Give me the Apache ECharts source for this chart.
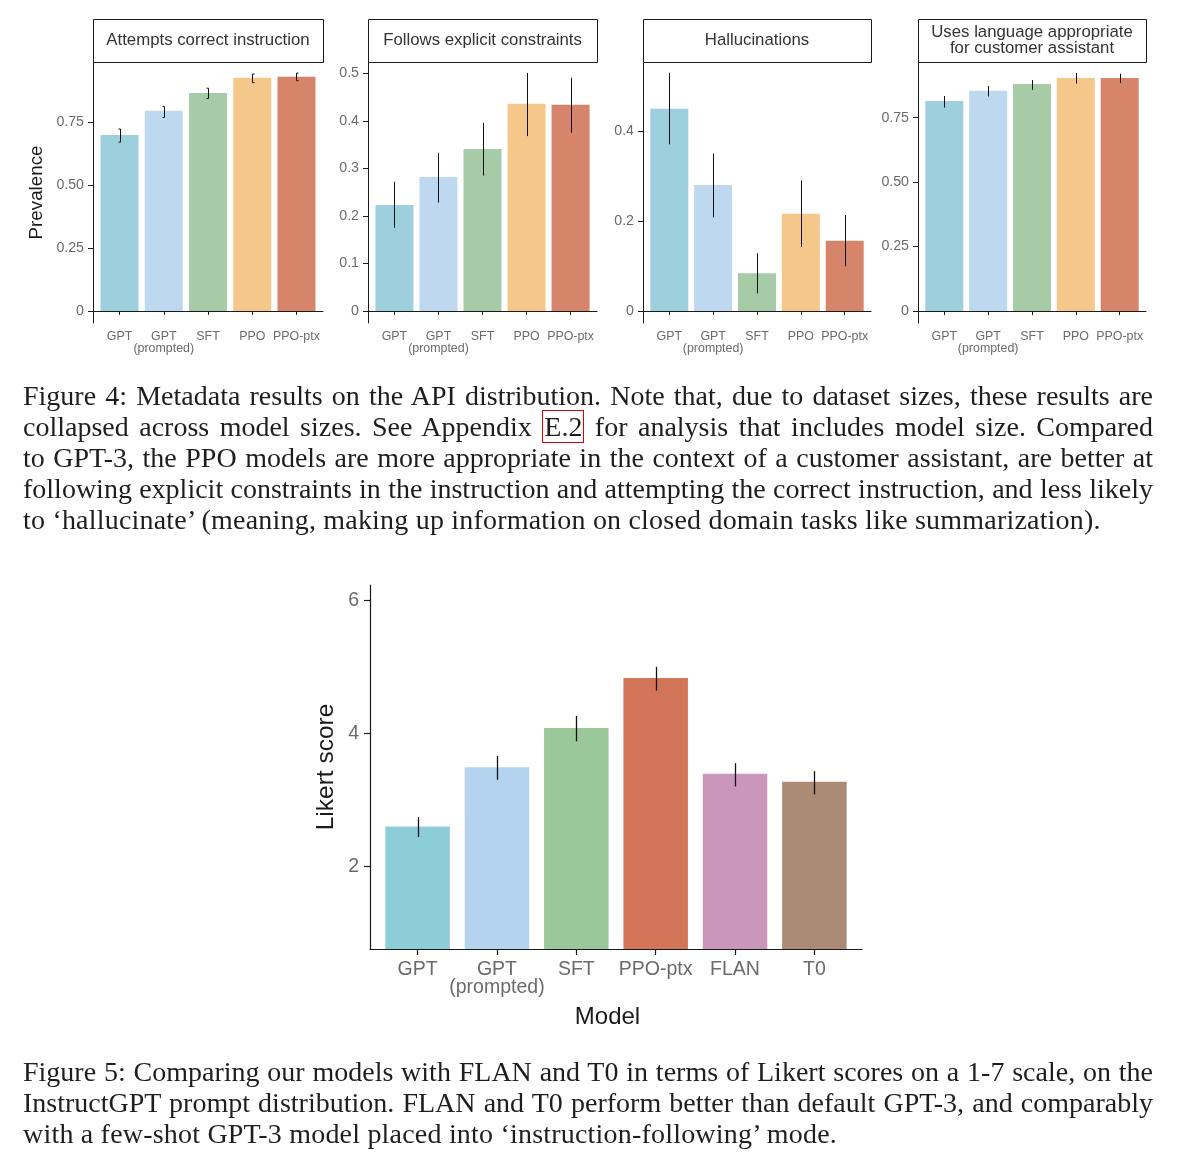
<!DOCTYPE html>
<html>
<head>
<meta charset="utf-8">
<script src="https://cdn.jsdelivr.net/npm/echarts@6/dist/echarts.min.js"></script>
<style>
html, body { margin: 0; padding: 0; background: #fff; }
#chart { position: absolute; left: 0; top: 0; width: 1180px; height: 1155px; }
.cap { position: absolute; left: 23px; width: 1130px; font-family: "Liberation Serif", "Times New Roman", serif; font-size: 28px; line-height: 31px; color: #1e1e1e; }
.cap .j { text-align: justify; text-align-last: justify; }
.cap .l { text-align: left; letter-spacing: 0.2px; }
.ref { border: 1px solid #e00000; padding: 0 1px; }
</style>
</head>
<body>
<div id="chart"></div>
<div class="cap" id="cap4" style="top:380px;">
  <div class="j">Figure 4: Metadata results on the API distribution. Note that, due to dataset sizes, these results are</div>
  <div class="j">collapsed across model sizes. See Appendix <span class="ref">E.2</span> for analysis that includes model size. Compared</div>
  <div class="j">to GPT-3, the PPO models are more appropriate in the context of a customer assistant, are better at</div>
  <div class="j">following explicit constraints in the instruction and attempting the correct instruction, and less likely</div>
  <div class="l">to ‘hallucinate’ (meaning, making up information on closed domain tasks like summarization).</div>
</div>
<div class="cap" id="cap5" style="top:1056px;">
  <div class="j">Figure 5: Comparing our models with FLAN and T0 in terms of Likert scores on a 1-7 scale, on the</div>
  <div class="j">InstructGPT prompt distribution. FLAN and T0 perform better than default GPT-3, and comparably</div>
  <div class="l">with a few-shot GPT-3 model placed into ‘instruction-following’ mode.</div>
</div>
<script>
// ---------------- DATA ----------------
const topCategories = ['GPT', 'GPT\n(prompted)', 'SFT', 'PPO', 'PPO-ptx'];

const panelTitles = [
  'Attempts correct instruction',
  'Follows explicit constraints',
  'Hallucinations',
  'Uses language appropriate\nfor customer assistant'
];

const attemptsMean = [0.698, 0.794, 0.865, 0.925, 0.929];
const attemptsLow  = [0.670, 0.768, 0.843, 0.906, 0.914];
const attemptsHigh = [0.722, 0.812, 0.884, 0.940, 0.944];

const constraintsMean = [0.223, 0.282, 0.341, 0.436, 0.434];
const constraintsLow  = [0.175, 0.228, 0.285, 0.368, 0.375];
const constraintsHigh = [0.272, 0.333, 0.396, 0.501, 0.491];

const hallucinationsMean = [0.449, 0.280, 0.084, 0.216, 0.156];
const hallucinationsLow  = [0.370, 0.208, 0.039, 0.142, 0.099];
const hallucinationsHigh = [0.529, 0.350, 0.128, 0.290, 0.213];

const languageMean = [0.815, 0.854, 0.881, 0.904, 0.904];
const languageLow  = [0.789, 0.832, 0.858, 0.882, 0.885];
const languageHigh = [0.834, 0.873, 0.896, 0.924, 0.921];

const prevalenceTicksA = [0, 0.25, 0.5, 0.75];
const prevalenceLabelsA = ['0', '0.25', '0.50', '0.75'];
const prevalenceTicksB = [0, 0.1, 0.2, 0.3, 0.4, 0.5];
const prevalenceLabelsB = ['0', '0.1', '0.2', '0.3', '0.4', '0.5'];
const prevalenceTicksC = [0, 0.2, 0.4];
const prevalenceLabelsC = ['0', '0.2', '0.4'];

const likertCategories = ['GPT', 'GPT\n(prompted)', 'SFT', 'PPO-ptx', 'FLAN', 'T0'];
const likertMean = [2.60, 3.49, 4.08, 4.83, 3.39, 3.27];
const likertLow  = [2.44, 3.30, 3.88, 4.64, 3.20, 3.08];
const likertHigh = [2.74, 3.66, 4.26, 5.00, 3.55, 3.43];
const likertTicks = [2, 4, 6];
const likertTickLabels = ['2', '4', '6'];

// ---------------- STYLE / LAYOUT ----------------
const topColors = ['#9dcfdc', '#bdd8ef', '#a6cba6', '#f6c78a', '#d6846a'];
const likertColors = ['#8ccdd8', '#b3d3ee', '#9ac89b', '#d37559', '#ca97ba', '#ab8b76'];
const sans = '"Liberation Sans", Arial, Helvetica, sans-serif';
const axisColor = '#1a1a1a';
const labelColor = '#6b6b6b';

const panels = [
  { title: panelTitles[0], mean: attemptsMean, low: attemptsLow, high: attemptsHigh,
    ticks: prevalenceTicksA, labels: prevalenceLabelsA, min: -0.048, max: 0.988,
    left: 93, width: 230, yName: 'Prevalence', caps: [-1, -1, -1, 1, 1] },
  { title: panelTitles[1], mean: constraintsMean, low: constraintsLow, high: constraintsHigh,
    ticks: prevalenceTicksB, labels: prevalenceLabelsB, min: -0.0253, max: 0.524,
    left: 368, width: 229, yName: '', caps: null },
  { title: panelTitles[2], mean: hallucinationsMean, low: hallucinationsLow, high: hallucinationsHigh,
    ticks: prevalenceTicksC, labels: prevalenceLabelsC, min: -0.0267, max: 0.553,
    left: 643, width: 228, yName: '', caps: null },
  { title: panelTitles[3], mean: languageMean, low: languageLow, high: languageHigh,
    ticks: prevalenceTicksA, labels: prevalenceLabelsA, min: -0.0466, max: 0.966,
    left: 918, width: 228, yName: '', caps: null }
];
const topGridTop = 62, topGridHeight = 261, titleTop = 19;

const grids = [], xAxes = [], yAxes = [], series = [], graphics = [];

function errorSeries(idx, lows, highs, lineWidth, caps) {
  return {
    type: 'custom', xAxisIndex: idx, yAxisIndex: idx, clip: false, z: 5,
    data: lows.map((lo, i) => [i, lo, highs[i]]),
    encode: { x: 0, y: [1, 2] },
    renderItem: function (params, api) {
      const i = api.value(0);
      const a = api.coord([i, api.value(1)]);
      const b = api.coord([i, api.value(2)]);
      const x = Math.round(a[0]) + 0.5;
      const children = [{
        type: 'line', shape: { x1: x, y1: a[1], x2: x, y2: b[1] },
        style: { stroke: '#111', lineWidth: lineWidth }
      }];
      if (caps) {
        const d = caps[i] * 2;
        children.push({ type: 'line', shape: { x1: x, y1: a[1], x2: x + d, y2: a[1] }, style: { stroke: '#111', lineWidth: 1 } });
        children.push({ type: 'line', shape: { x1: x, y1: b[1], x2: x + d, y2: b[1] }, style: { stroke: '#111', lineWidth: 1 } });
      }
      return { type: 'group', children: children };
    }
  };
}

panels.forEach((p, k) => {
  grids.push({ left: p.left, top: topGridTop, width: p.width, height: topGridHeight, outerBoundsMode: 'none' });
  const idxs = topCategories.map((c, i) => i);
  xAxes.push({
    type: 'value', gridIndex: k, min: -0.6, max: topCategories.length - 0.4,
    splitLine: { show: false },
    axisLine: { show: true, lineStyle: { color: axisColor, width: 1 } },
    axisTick: { show: true, customValues: idxs, length: 4, lineStyle: { color: axisColor } },
    axisLabel: {
      show: true, customValues: idxs, margin: 7,
      formatter: v => topCategories[Math.round(v)],
      color: labelColor, fontFamily: sans, fontSize: 12.4, lineHeight: 12.5
    }
  });
  yAxes.push({
    type: 'value', gridIndex: k, min: p.min, max: p.max,
    splitLine: { show: false },
    axisLine: { show: true, onZero: false, lineStyle: { color: axisColor, width: 1 } },
    axisTick: { show: true, customValues: p.ticks, length: 5, lineStyle: { color: axisColor } },
    axisLabel: {
      show: true, customValues: p.ticks, margin: 9,
      formatter: v => { const j = p.ticks.findIndex(t => Math.abs(t - v) < 1e-9); return j >= 0 ? p.labels[j] : ''; },
      color: labelColor, fontFamily: sans, fontSize: 14.2
    },
    name: p.yName, nameLocation: 'middle', nameGap: 47,
    nameTextStyle: { color: '#1a1a1a', fontFamily: sans, fontSize: 18.8 }
  });
  series.push({
    type: 'bar', xAxisIndex: k, yAxisIndex: k, barWidth: 38,
    data: p.mean.map((v, i) => ({ value: [i, v], itemStyle: { color: topColors[i] } }))
  });
  series.push(errorSeries(k, p.low, p.high, 1, p.caps));
  // facet title strip
  graphics.push({
    type: 'rect', shape: { x: p.left + 0.5, y: titleTop + 0.5, width: p.width, height: topGridTop - titleTop },
    style: { fill: '#fff', stroke: '#1a1a1a', lineWidth: 1 }, z: 10
  });
  graphics.push({
    type: 'text', x: p.left + p.width / 2, y: (titleTop + topGridTop) / 2, z: 11,
    style: { text: p.title, align: 'center', verticalAlign: 'middle', fill: '#333',
      font: '16.8px ' + sans, lineHeight: 15.5 }
  });
});

// ---------------- FIGURE 5 ----------------
const k5 = panels.length;
const likertIdx = likertCategories.map((c, i) => i);
grids.push({ left: 370, top: 585, width: 492, height: 364, outerBoundsMode: 'none' });
xAxes.push({
  type: 'value', gridIndex: k5, min: -0.6, max: likertCategories.length - 0.4,
  splitLine: { show: false },
  axisLine: { show: true, onZero: false, lineStyle: { color: axisColor, width: 1.2 } },
  axisTick: { show: true, customValues: likertIdx, length: 6, lineStyle: { color: axisColor, width: 1.2 } },
  axisLabel: {
    show: true, customValues: likertIdx, margin: 12,
    formatter: v => likertCategories[Math.round(v)],
    color: labelColor, fontFamily: sans, fontSize: 19.5, lineHeight: 17.5
  },
  name: 'Model', nameLocation: 'middle', nameGap: 56,
  nameTextStyle: { color: '#1a1a1a', fontFamily: sans, fontSize: 24, padding: [0, 17, 0, 0] }
});
yAxes.push({
  type: 'value', gridIndex: k5, min: 0.756, max: 6.23,
  splitLine: { show: false },
  axisLine: { show: true, onZero: false, lineStyle: { color: axisColor, width: 1.2 } },
  axisTick: { show: true, customValues: likertTicks, length: 6, lineStyle: { color: axisColor, width: 1.2 } },
  axisLabel: {
    show: true, customValues: likertTicks, margin: 11,
    formatter: v => { const j = likertTicks.indexOf(v); return j >= 0 ? likertTickLabels[j] : ''; },
    color: labelColor, fontFamily: sans, fontSize: 19.5
  },
  name: 'Likert score', nameLocation: 'middle', nameGap: 31,
  nameTextStyle: { color: '#1a1a1a', fontFamily: sans, fontSize: 24.5 }
});
series.push({
  type: 'bar', xAxisIndex: k5, yAxisIndex: k5, barWidth: 64.5,
  data: likertMean.map((v, i) => ({ value: [i, v], itemStyle: { color: likertColors[i] } }))
});
series.push(errorSeries(k5, likertLow, likertHigh, 1.3, null));

const chart = echarts.init(document.getElementById('chart'), null, { renderer: 'canvas' });
chart.setOption({
  animation: false,
  backgroundColor: '#fff',
  grid: grids,
  xAxis: xAxes,
  yAxis: yAxes,
  series: series,
  graphic: graphics
});
</script>
</body>
</html>
